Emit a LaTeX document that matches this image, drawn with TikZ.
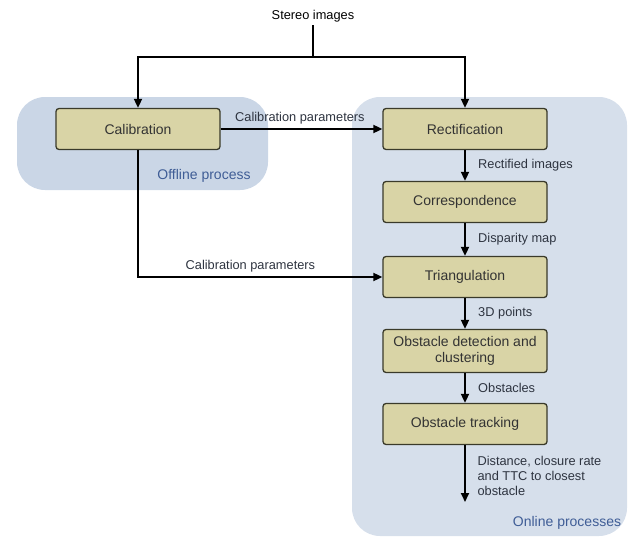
\documentclass[tikz,border=0pt]{standalone}
\usepackage{fontspec}
\setmainfont{Liberation Sans}
\usetikzlibrary{arrows.meta}
\definecolor{boxfill}{HTML}{D9D4A6}
\definecolor{boxdraw}{HTML}{3A3A2A}
\definecolor{offfill}{HTML}{CAD6E6}
\definecolor{onfill}{HTML}{D6DFEB}
\definecolor{regtext}{HTML}{3F5D96}
\definecolor{lbltext}{HTML}{2E3440}
\begin{document}
\begin{tikzpicture}[x=1pt,y=-1pt,
  stepbox/.style={draw=boxdraw,line width=1.3pt,fill=boxfill,rounded corners=3pt,
    minimum width=164pt,minimum height=41pt,align=center,font=\fontsize{14}{16}\selectfont,text=black!80,inner sep=2pt},
  region/.style={fill=#1,rounded corners=28pt,draw=none},
  lbl/.style={font=\fontsize{12.8}{15}\selectfont,text=lbltext},
  rlbl/.style={font=\fontsize{14}{16}\selectfont,text=regtext},
  conn/.style={line width=1.8pt,-{Triangle[length=9pt,width=8pt]}},
  plain/.style={line width=1.8pt}
]
\useasboundingbox (0,0) rectangle (630,538);
\fill[region=offfill] (17,97) rectangle (268,190);
\fill[region=onfill] (352,97) rectangle (627,536);
\node[rlbl] (offl) at (204,176) {Offline process};
\node[rlbl] (onl) at (567,523) {Online processes};

\node[font=\fontsize{12.8}{15}\selectfont] (stereo) at (313,16) {Stereo images};
\node[stepbox] (calib) at (138,129) {Calibration};
\node[stepbox] (rect) at (465,129) {Rectification};
\node[stepbox] (corr) at (465,202) {Correspondence};
\node[stepbox] (tri) at (465,277) {Triangulation};
\node[stepbox,minimum height=43pt] (obs) at (465,351) {Obstacle detection and\\clustering};
\node[stepbox] (trk) at (465,424) {Obstacle tracking};
\coordinate (split) at (313,57);
\coordinate (out) at (465,502);

\draw[plain] (stereo.south) -- (split);
\draw[conn] (split) -| (calib.north);
\draw[conn] (split) -| (rect.north);
\draw[conn] (calib.east) -- node[lbl,above,pos=0.49,yshift=1pt]{Calibration parameters} (rect.west);
\draw[conn] (calib.south) |- node[lbl,above,pos=0.73,yshift=1pt]{Calibration parameters} (tri.west);
\draw[conn] (rect) -- node[lbl,right,xshift=9pt]{Rectified images} (corr);
\draw[conn] (corr) -- node[lbl,right,xshift=9pt]{Disparity map} (tri);
\draw[conn] (tri) -- node[lbl,right,xshift=9pt]{3D points} (obs);
\draw[conn] (obs) -- node[lbl,right,xshift=9pt]{Obstacles} (trk);
\draw[conn] (trk) -- (out);
\node[lbl,anchor=north west,align=left] (outl) at (474,453) {Distance, closure rate\\and TTC to closest\\obstacle};
\end{tikzpicture}
\end{document}
